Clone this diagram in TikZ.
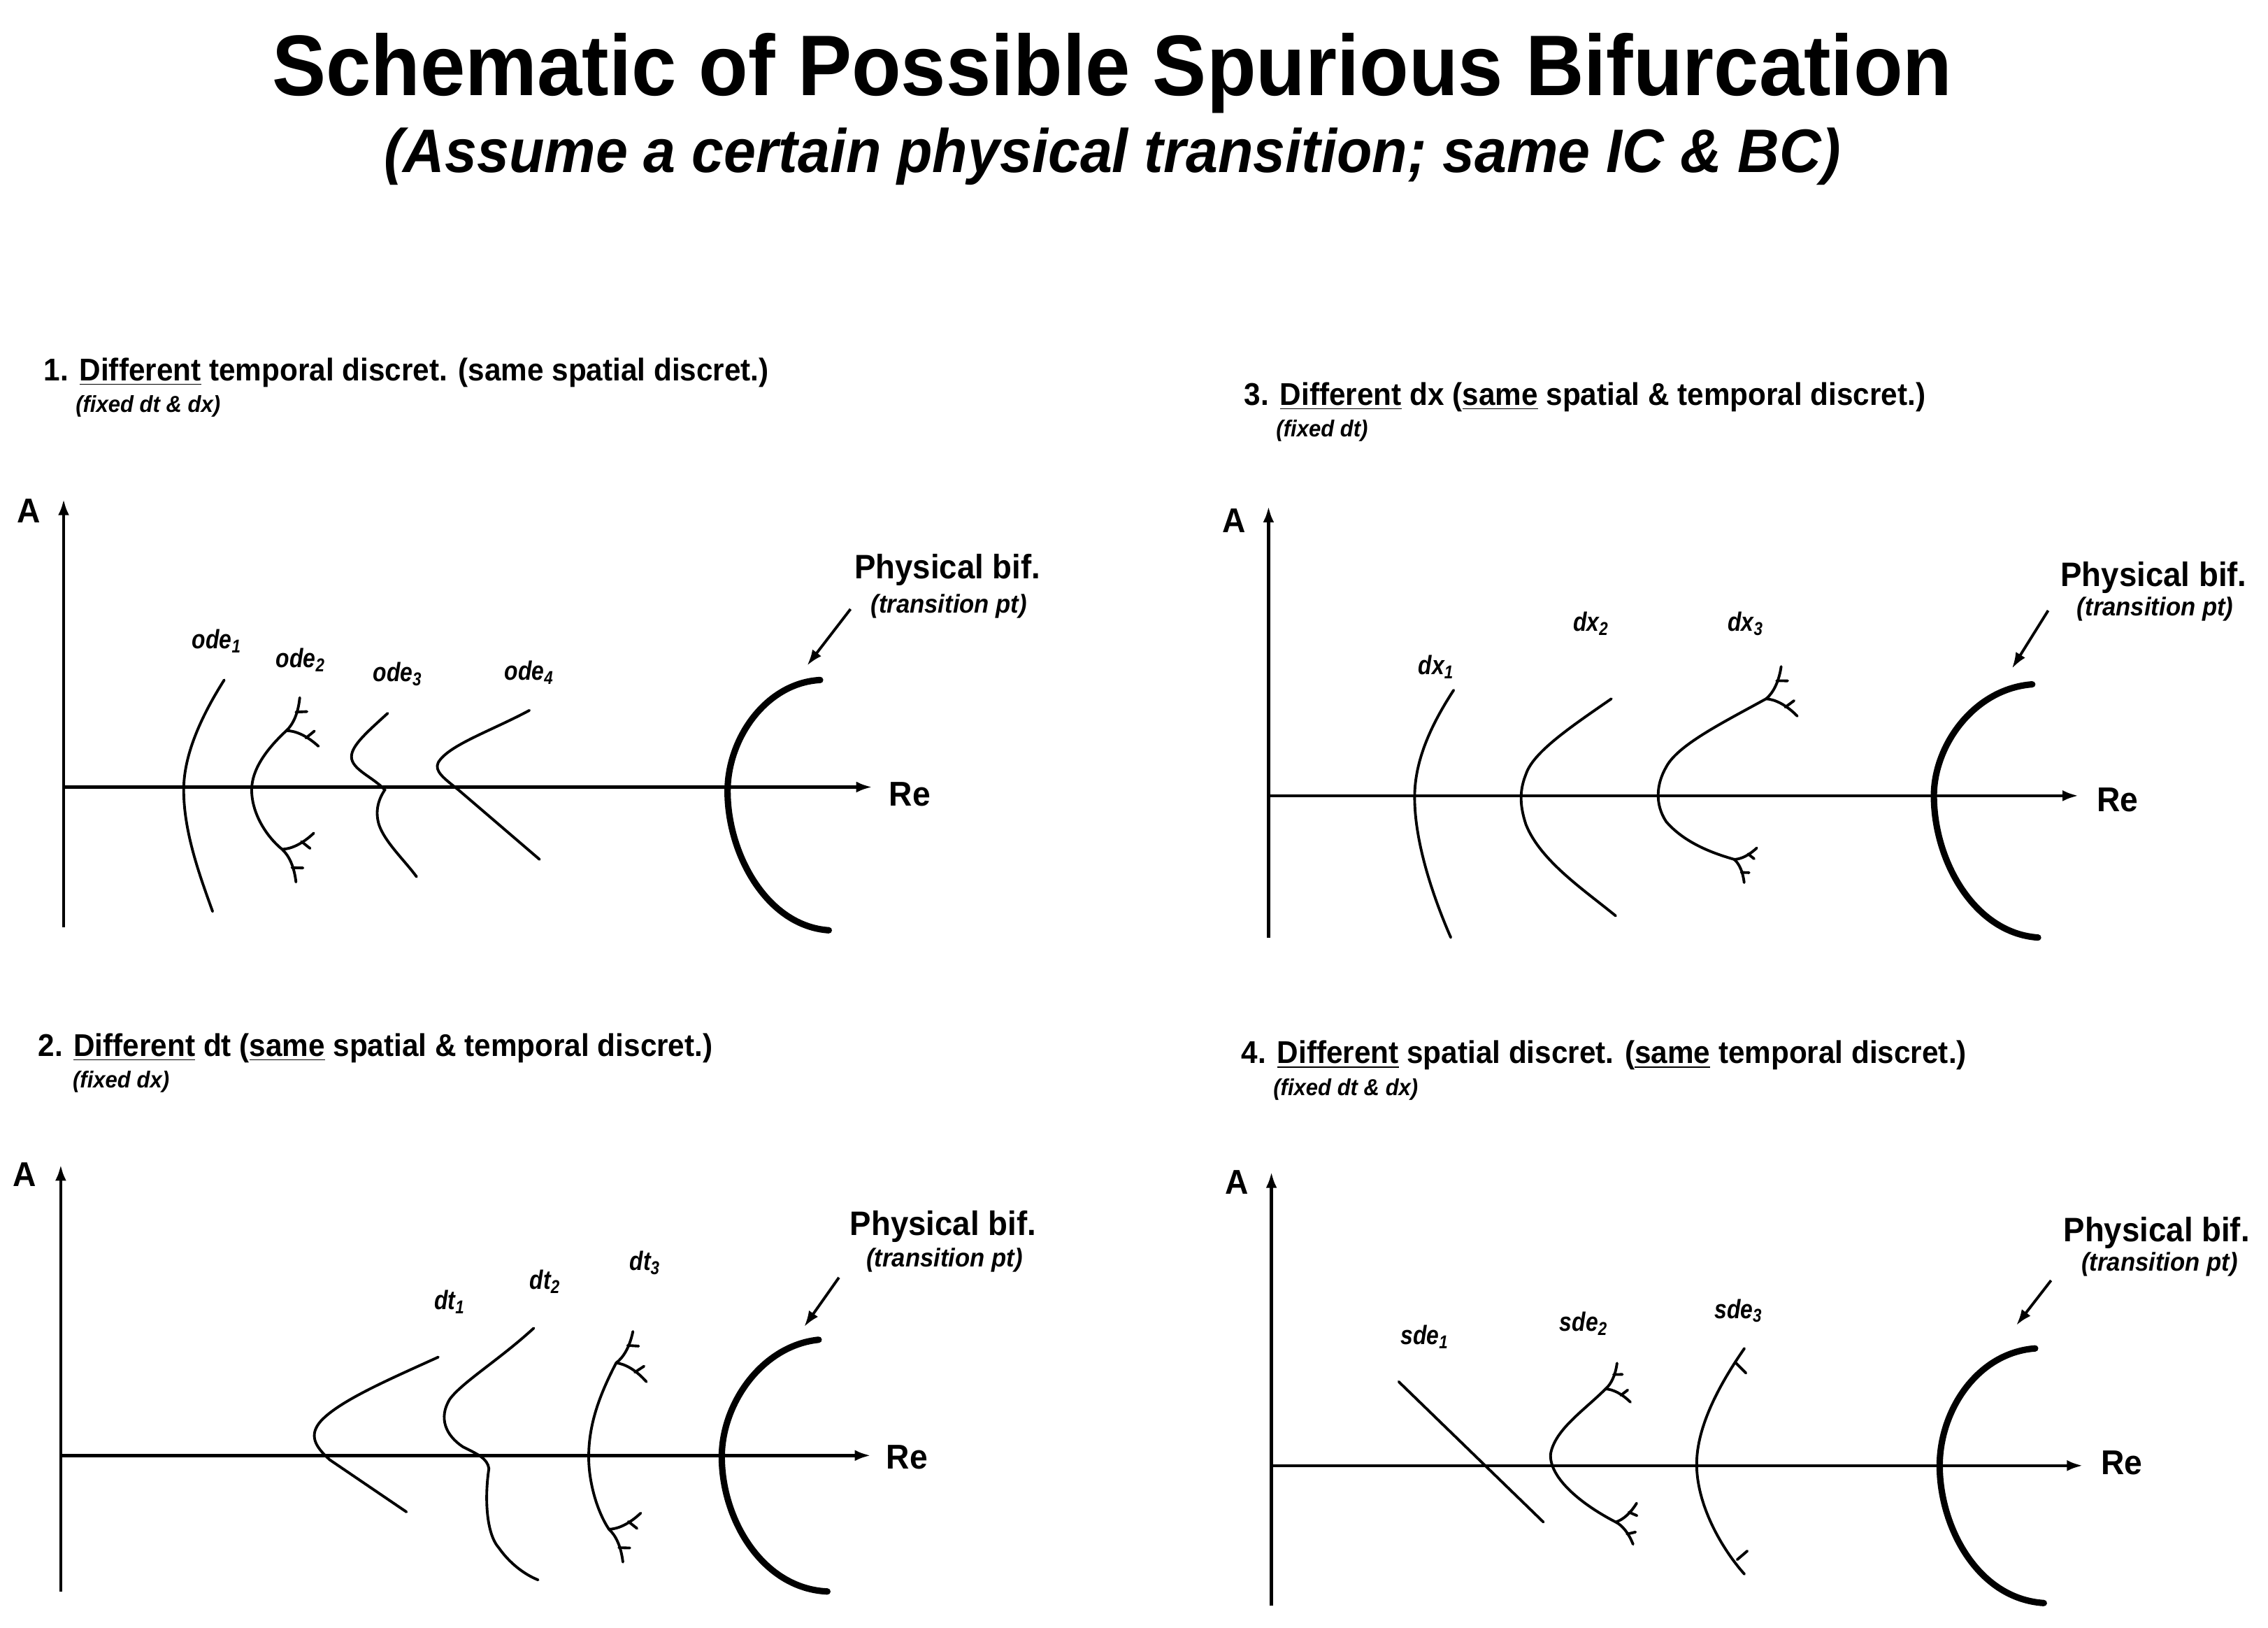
\documentclass[tikz,border=0pt]{standalone}
\usepackage{fontspec}
\setmainfont{Liberation Sans}[FakeStretch=0.94]
\newfontfamily\labfont{Liberation Sans}[FakeStretch=0.84]
\usetikzlibrary{arrows.meta}
\tikzset{
  axisln/.style={line width=1.25pt, -{Latex[length=6.5pt,width=4.5pt]}},
  crvline/.style={line width=1.1pt, line cap=round},
  physarc/.style={line width=2.6pt, line cap=round},
  pointer/.style={line width=1.1pt, -{Latex[length=6.5pt,width=4.5pt]}},
  ttltxt/.style={font=\fontsize{35}{40}\selectfont\bfseries, inner sep=0, anchor=base},
  subtxt/.style={font=\fontsize{25}{28}\selectfont\bfseries\itshape, inner sep=0, anchor=base},
  hdtxt/.style={font=\fontsize{12.8}{15}\selectfont\bfseries, anchor=base west, inner sep=0},
  fixtxt/.style={font=\fontsize{9.4}{10}\selectfont\bfseries\itshape, anchor=base west, inner sep=0},
  axtxt/.style={font=\fontsize{14}{16}\selectfont\bfseries, inner sep=0},
  phytxt/.style={font=\fontsize{13.8}{16}\selectfont\bfseries, inner sep=0},
  trntxt/.style={font=\fontsize{10.5}{12}\selectfont\bfseries\itshape, inner sep=0},
  crvtxt/.style={font=\labfont\fontsize{10.8}{12}\selectfont\bfseries\itshape, inner sep=0},
}
\newcommand{\casc}[4]{%
  \begin{scope}[shift={(#1,#2)}, rotate=#3, scale=#4]
    \draw[crvline] (0,0) .. controls (5,-2) and (10,-7) .. (14,-15);
    \draw[crvline] (0,0) .. controls (5,2) and (10,7) .. (14,15);
    \draw[crvline] (9,-8) -- (15,-6);
    \draw[crvline] (9,8) -- (15,6);
  \end{scope}}
\begin{document}
\begin{tikzpicture}[x=0.020689cm, y=-0.020689cm]
\useasboundingbox (0,0) rectangle (1568,1125);

% ---------- title ----------
\node[ttltxt] (title) at (769,66) {Schematic of Possible Spurious Bifurcation};
\node[subtxt] (subtitle) at (769,119) {(Assume a certain physical transition; same IC \& BC)};

% ---------- panel 1 ----------
\node[hdtxt] (h1) at (30,263) {1. \underline{Different} temporal discret. (same spatial discret.)};
\node[fixtxt] (f1) at (52,285) {(fixed dt \& dx)};
\coordinate (o1) at (44,544);
\coordinate (y1) at (44,345);
\coordinate (x1) at (603,544);
\coordinate (b1) at (44,641);
\draw[axisln] (b1) -- (y1);
\draw[axisln] (o1) -- (x1);
\node[axtxt] (A1) at (20,353) {A};
\node[axtxt] (R1) at (629,549) {Re};
\node[crvtxt] (l11) at (150,443) {ode\textsubscript{1}};
\node[crvtxt] (l12) at (208,456) {ode\textsubscript{2}};
\node[crvtxt] (l13) at (275,466) {ode\textsubscript{3}};
\node[crvtxt] (l14) at (366,465) {ode\textsubscript{4}};
\draw[crvline] (155,470) .. controls (136,500) and (127,525) .. (127,546) .. controls (127,575) and (138,605) .. (147,630);
\draw[crvline] (198,505) .. controls (184,518) and (174,532) .. (174,546) .. controls (174,562) and (184,578) .. (195,587);
\casc{198}{505}{21}{1.2}
\casc{195}{587}{-20}{1.2}
\draw[crvline] (268,493) .. controls (255,505) and (243,515) .. (243,523) .. controls (243,532) and (258,537) .. (266,546) .. controls (262,552) and (259,560) .. (262,570) .. controls (266,582) and (280,595) .. (288,606);
\draw[crvline] (366,491) .. controls (340,505) and (310,515) .. (303,527) .. controls (300,533) and (307,538) .. (317,546) -- (373,594);
\draw[physarc] (567,470) .. controls (530,472) and (503,510) .. (503,547) .. controls (503,590) and (530,640) .. (573,643);
\node[phytxt] (P1) at (655,394) {Physical bif.};
\node[trntxt] (T1) at (656,419) {(transition pt)};
\coordinate (a1s) at (588,421);
\coordinate (a1e) at (558,460);
\draw[pointer] (a1s) -- (a1e);

% ---------- panel 3 ----------
\node[hdtxt] (h3) at (860,280) {3. \underline{Different} dx (\underline{same} spatial \& temporal discret.)};
\node[fixtxt] (f3) at (882,302) {(fixed dt)};
\coordinate (o3) at (877,550);
\coordinate (y3) at (877,350);
\coordinate (x3) at (1437,550);
\coordinate (b3) at (877,648);
\draw[axisln] (b3) -- (y3);
\draw[axisln] (o3) -- (x3);
\node[axtxt] (A3) at (853,360) {A};
\node[axtxt] (R3) at (1464,553) {Re};
\node[crvtxt] (l31) at (993,461) {dx\textsubscript{1}};
\node[crvtxt] (l32) at (1100,431) {dx\textsubscript{2}};
\node[crvtxt] (l33) at (1207,431) {dx\textsubscript{3}};
\draw[crvline] (1005,477) .. controls (990,500) and (978,525) .. (978,551) .. controls (978,585) and (993,625) .. (1003,648);
\draw[crvline] (1114,483) .. controls (1085,503) and (1060,520) .. (1055,535) .. controls (1051,545) and (1050,555) .. (1055,570) .. controls (1065,595) and (1095,615) .. (1117,633);
\draw[crvline] (1221,483) .. controls (1190,500) and (1160,515) .. (1152,530) .. controls (1145,542) and (1144,556) .. (1152,568) .. controls (1165,583) and (1185,590) .. (1199,594);
\casc{1221}{483}{18}{1.2}
\casc{1199}{594}{-20}{0.85}
\draw[physarc] (1405,473) .. controls (1365,476) and (1337,515) .. (1337,550) .. controls (1337,595) and (1365,645) .. (1409,648);
\node[phytxt] (P3) at (1489,399) {Physical bif.};
\node[trntxt] (T3) at (1490,421) {(transition pt)};
\coordinate (a3s) at (1416,422);
\coordinate (a3e) at (1391,462);
\draw[pointer] (a3s) -- (a3e);

% ---------- panel 2 ----------
\node[hdtxt] (h2) at (26,730) {2. \underline{Different} dt (\underline{same} spatial \& temporal discret.)};
\node[fixtxt] (f2) at (50,752) {(fixed dx)};
\coordinate (o2) at (42,1006);
\coordinate (y2) at (42,805);
\coordinate (x2) at (602,1006);
\coordinate (b2) at (42,1100);
\draw[axisln] (b2) -- (y2);
\draw[axisln] (o2) -- (x2);
\node[axtxt] (A2) at (17,812) {A};
\node[axtxt] (R2) at (627,1007) {Re};
\node[crvtxt] (l21) at (311,900) {dt\textsubscript{1}};
\node[crvtxt] (l22) at (377,886) {dt\textsubscript{2}};
\node[crvtxt] (l23) at (446,873) {dt\textsubscript{3}};
\draw[crvline] (303,938) .. controls (270,953) and (235,968) .. (222,982) .. controls (213,992) and (218,1000) .. (228,1009) -- (281,1045);
\draw[crvline] (369,918) .. controls (345,940) and (320,955) .. (311,967) .. controls (303,980) and (308,992) .. (320,1000) .. controls (330,1005) and (337,1008) .. (338,1015) .. controls (335,1035) and (336,1060) .. (345,1070) .. controls (352,1080) and (362,1088) .. (372,1092);
\draw[crvline] (426,942) .. controls (414,965) and (407,985) .. (407,1007) .. controls (407,1025) and (413,1045) .. (421,1057);
\casc{426}{942}{15}{1.2}
\casc{421}{1057}{-20}{1.2}
\draw[physarc] (566,926) .. controls (527,930) and (499,970) .. (499,1007) .. controls (499,1050) and (527,1098) .. (572,1100);
\node[phytxt] (P2) at (652,848) {Physical bif.};
\node[trntxt] (T2) at (653,871) {(transition pt)};
\coordinate (a2s) at (580,883);
\coordinate (a2e) at (556,917);
\draw[pointer] (a2s) -- (a2e);

% ---------- panel 4 ----------
\node[hdtxt] (h4) at (858,735) {4. \underline{Different} spatial discret. (\underline{same} temporal discret.)};
\node[fixtxt] (f4) at (880,757) {(fixed dt \& dx)};
\coordinate (o4) at (879,1013);
\coordinate (y4) at (879,810);
\coordinate (x4) at (1440,1013);
\coordinate (b4) at (879,1110);
\draw[axisln] (b4) -- (y4);
\draw[axisln] (o4) -- (x4);
\node[axtxt] (A4) at (855,817) {A};
\node[axtxt] (R4) at (1467,1011) {Re};
\node[crvtxt] (l41) at (985,924) {sde\textsubscript{1}};
\node[crvtxt] (l42) at (1095,915) {sde\textsubscript{2}};
\node[crvtxt] (l43) at (1202,906) {sde\textsubscript{3}};
\draw[crvline] (967,955) -- (1067,1052);
\draw[crvline] (1110,960) .. controls (1095,975) and (1075,988) .. (1072,1005) .. controls (1071,1020) and (1090,1038) .. (1117,1052);
\casc{1110}{960}{19}{0.95}
\casc{1117}{1052}{-5}{0.95}
\draw[crvline] (1206,932) .. controls (1190,955) and (1173,985) .. (1173,1012) .. controls (1173,1040) and (1190,1070) .. (1206,1088);
\draw[crvline] (1200,942) -- (1207,949);
\draw[crvline] (1201,1078) -- (1208,1072);
\draw[physarc] (1407,932) .. controls (1367,935) and (1341,975) .. (1341,1013) .. controls (1341,1055) and (1367,1105) .. (1413,1108);
\node[phytxt] (P4) at (1491,852) {Physical bif.};
\node[trntxt] (T4) at (1493,874) {(transition pt)};
\coordinate (a4s) at (1418,885);
\coordinate (a4e) at (1394,916);
\draw[pointer] (a4s) -- (a4e);
\end{tikzpicture}
\end{document}
